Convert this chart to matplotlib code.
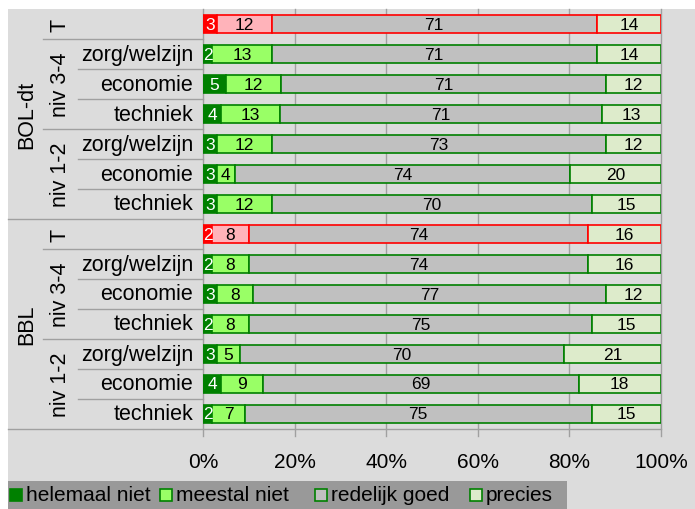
import matplotlib
matplotlib.use("Agg")
import matplotlib.pyplot as plt
import matplotlib.transforms as mtransforms
from matplotlib.patches import Rectangle
import numpy as np

plt.rcParams['font.family'] = ['Liberation Sans', 'DejaVu Sans']

# rows top to bottom
groups = ["BOL-dt", "BBL"]
subgroups = ["T", "niv 3-4", "niv 1-2"]
rij_labels = ["", "zorg/welzijn", "economie", "techniek",
              "zorg/welzijn", "economie", "techniek",
              "", "zorg/welzijn", "economie", "techniek",
              "zorg/welzijn", "economie", "techniek"]
series = ["helemaal niet", "meestal niet", "redelijk goed", "precies"]

helemaal_niet = [3, 2, 5, 4, 3, 3, 3, 2, 2, 3, 2, 3, 4, 2]
meestal_niet = [12, 13, 12, 13, 12, 4, 12, 8, 8, 8, 8, 5, 9, 7]
redelijk_goed = [71, 71, 71, 71, 73, 74, 70, 74, 74, 77, 75, 70, 69, 75]
precies = [14, 14, 12, 13, 12, 20, 15, 16, 16, 12, 15, 21, 18, 15]
is_totaal = [True, False, False, False, False, False, False,
             True, False, False, False, False, False, False]

W, H = 695, 510
fig = plt.figure(figsize=(W / 100, H / 100), dpi=100)
fig.patch.set_facecolor("white")

def px(x, y):
    return x / W, 1 - y / H

# grey background
bx, by = px(8, 510)
fig.patches.append(Rectangle((bx, by), 1 - bx, (510 - 10) / H,
                             transform=fig.transFigure, facecolor="#dcdcdc",
                             edgecolor="none", zorder=-5))

x0, x1 = 203, 661
y0, y1 = 10, 430
ax = fig.add_axes([x0 / W, 1 - y1 / H, (x1 - x0) / W, (y1 - y0) / H])
ax.set_zorder(2)
ax.set_facecolor("none")
n = len(rij_labels)
ax.set_xlim(0, 100)
ax.set_ylim(n - 0.5, -0.5)
ax.axis("off")

def axfrac(p):
    return (p - x0) / (x1 - x0)

trans = mtransforms.blended_transform_factory(ax.transAxes, ax.transData)
grid_c = "#a0a0a0"

# vertical grid lines (extend a bit below the bottom line)
ext = 7 / 30.0
for g in range(0, 101, 20):
    ax.plot([g, g], [-0.5, n - 0.5 + ext], color=grid_c, lw=1, zorder=1,
            clip_on=False)

# separators in label area
starts = {0: 43, 1: 78, 2: 78, 3: 43, 4: 78, 5: 78, 6: 8,
          7: 43, 8: 78, 9: 78, 10: 43, 11: 78, 12: 78}
for i, s in starts.items():
    ax.plot([axfrac(s), 0], [i + 0.5, i + 0.5], color=grid_c, lw=1,
            transform=trans, clip_on=False, zorder=1)
ax.plot([axfrac(8), 1], [n - 0.5, n - 0.5], color=grid_c, lw=1,
        transform=trans, clip_on=False, zorder=1)

data = np.array([helemaal_niet, meestal_niet, redelijk_goed, precies], dtype=float)
pct = data / data.sum(axis=0) * 100

kleur = ["#008000", "#99ff66", "#c0c0c0", "#ddebcb"]
kleur_t = ["#ff0000", "#ffb3ba", "#c0c0c0", "#ddebcb"]

for i in range(n):
    left = 0
    for k in range(4):
        w = pct[k, i]
        if is_totaal[i]:
            fc, ec = kleur_t[k], "#ff0000"
        else:
            fc, ec = kleur[k], "#008000"
        ax.barh(i, w, left=left, height=0.57, color=fc, edgecolor=ec,
                linewidth=1.2, zorder=2)
        ax.text(left + w / 2, i, str(int(data[k, i])), ha="center",
                va="center", fontsize=12.5,
                color="white" if k == 0 else "black", zorder=3)
        left += w

# labels
for i, lab in enumerate(rij_labels):
    if lab:
        ax.text(axfrac(193), i, lab, transform=trans, ha="right",
                va="center", fontsize=15.5)
sub_pos = [(0, "T"), (2, "niv 3-4"), (5, "niv 1-2"),
           (7, "T"), (9, "niv 3-4"), (12, "niv 1-2")]
for y, lab in sub_pos:
    ax.text(axfrac(60), y, lab, transform=trans, ha="center", va="center",
            rotation=90, fontsize=15.5)
for y, lab in [(3, groups[0]), (10, groups[1])]:
    ax.text(axfrac(27), y, lab, transform=trans, ha="center", va="center",
            rotation=90, fontsize=15.5)

# x tick labels
for g in range(0, 101, 20):
    fig.text((x0 + (x1 - x0) * g / 100) / W, 1 - 463 / H, f"{g}%",
             ha="center", va="center", fontsize=15)

# legend box
lx, ly = px(8, 510)
fig.patches.append(Rectangle((lx, ly), (567 - 8) / W, (510 - 482) / H,
                             transform=fig.transFigure, facecolor="#999999",
                             edgecolor="none", zorder=-4))
leg_x = [10, 160, 315, 470]
for k, lab in enumerate(series):
    sx, sy = px(leg_x[k], 502)
    fig.patches.append(Rectangle((sx, sy), 12 / W, 12 / H,
                                 transform=fig.transFigure,
                                 facecolor=kleur[k], edgecolor="#008000",
                                 linewidth=1.2, zorder=-3))
    tx, ty = px(leg_x[k] + 16, 496)
    fig.text(tx, ty, lab, ha="left", va="center", fontsize=15)

fig.savefig("out.png", dpi=100)
